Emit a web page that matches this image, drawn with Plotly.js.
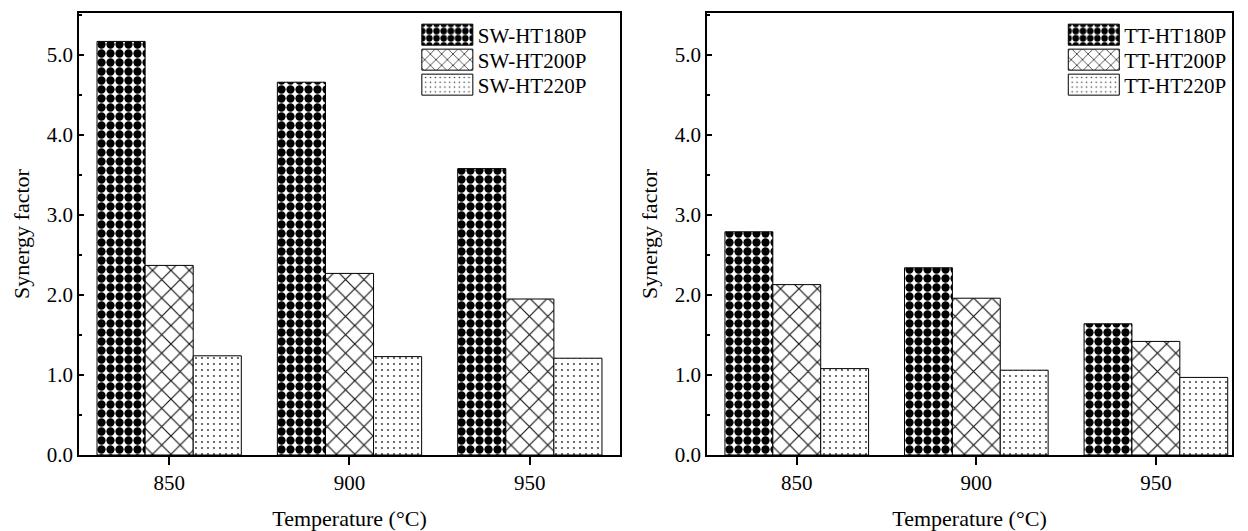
<!DOCTYPE html>
<html><head><meta charset="utf-8">
<script src="https://cdn.plot.ly/plotly-3.0.1.min.js"></script>
<style>html,body{margin:0;padding:0;background:#fff}#chart{width:1248px;height:531px}</style>
</head><body><div id="chart"></div>
<script>
// ---- data ----
const temperatures = [850, 900, 950];
const xTickLabels = ['850', '900', '950'];
const swNames = ['SW-HT180P', 'SW-HT200P', 'SW-HT220P'];
const ttNames = ['TT-HT180P', 'TT-HT200P', 'TT-HT220P'];
const sw180 = [5.17, 4.66, 3.58];
const sw200 = [2.37, 2.27, 1.95];
const sw220 = [1.24, 1.23, 1.21];
const tt180 = [2.79, 2.34, 1.64];
const tt200 = [2.13, 1.96, 1.42];
const tt220 = [1.08, 1.06, 0.97];
const yTickVals = [0, 1, 2, 3, 4, 5];

// ---- styles ----
const FONT = 'Liberation Serif, Times New Roman, serif';
const patterns = [
  {shape: '.', fgcolor: '#000', bgcolor: '#fff', size: 9, solidity: 0.66, fillmode: 'replace'},
  {shape: 'x', fgcolor: '#111', bgcolor: '#fff', size: 13, solidity: 0.17, fillmode: 'replace'},
  {shape: '.', fgcolor: '#333', bgcolor: '#fff', size: 6, solidity: 0.08, fillmode: 'replace'}
];
function mk(name, vals, i, xa, ya, lg) {
  return {
    type: 'bar', name: name, x: temperatures, y: vals,
    xaxis: xa, yaxis: ya, legend: lg,
    marker: {color: '#fff', pattern: patterns[i], line: {color: '#000', width: 1}},
    hoverinfo: 'name+y'
  };
}
const traces = [
  mk(swNames[0], sw180, 0, 'x', 'y', 'legend'),
  mk(swNames[1], sw200, 1, 'x', 'y', 'legend2'),
  mk(swNames[2], sw220, 2, 'x', 'y', 'legend3'),
  mk(ttNames[0], tt180, 0, 'x2', 'y2', 'legend4'),
  mk(ttNames[1], tt200, 1, 'x2', 'y2', 'legend5'),
  mk(ttNames[2], tt220, 2, 'x2', 'y2', 'legend6')
];

function xax(domain, range, anchor) {
  return {
    domain: domain, range: range, anchor: anchor,
    tickvals: temperatures, ticktext: xTickLabels,
    ticks: 'outside', ticklen: 8, tickwidth: 1.5, tickcolor: '#000',
    showline: true, linecolor: '#000', linewidth: 1.5, mirror: true,
    showgrid: false, zeroline: false,
    tickfont: {family: FONT, size: 21, color: '#000'},
    title: {text: 'Temperature (°C)', font: {family: FONT, size: 22, color: '#000'}, standoff: 18}
  };
}
function yax(anchor) {
  return {
    domain: [0.1431, 0.9755], range: [0, 5.525], anchor: anchor,
    tickvals: yTickVals, tickformat: '.1f',
    ticks: 'inside', ticklen: 5, tickwidth: 1.5, tickcolor: '#000',
    minor: {dtick: 0.5, ticks: 'inside', ticklen: 3, tickwidth: 1.5, tickcolor: '#000'},
    showline: true, linecolor: '#000', linewidth: 1.5, mirror: true,
    showgrid: false, zeroline: false,
    tickfont: {family: FONT, size: 21, color: '#000'},
    title: {text: 'Synergy factor', font: {family: FONT, size: 22, color: '#000'}, standoff: 11}
  };
}
function lg(x, rowCenterPx) {
  return {
    bgcolor: 'rgba(0,0,0,0)', borderwidth: 0,
    font: {family: FONT, size: 21, color: '#000'},
    itemwidth: 51, xanchor: 'left', yanchor: 'middle',
    x: x, y: (531 - rowCenterPx) / 531
  };
}
const rows = [35, 60, 85];
const layout = {
  width: 1248, height: 531,
  margin: {l: 0, r: 0, t: 0, b: 0},
  paper_bgcolor: '#fff', plot_bgcolor: '#fff',
  barmode: 'group', bargap: 0.2, bargroupgap: 0,
  showlegend: true,
  font: {family: FONT, color: '#000'},
  xaxis: xax([0.0633, 0.4968], [825, 975], 'y'),
  yaxis: yax('x'),
  xaxis2: xax([0.5665, 0.9872], [825, 971.2], 'y2'),
  yaxis2: yax('x2'),
  legend: lg(0.334, rows[0]),
  legend2: lg(0.334, rows[1]),
  legend3: lg(0.334, rows[2]),
  legend4: lg(0.852, rows[0]),
  legend5: lg(0.852, rows[1]),
  legend6: lg(0.852, rows[2])
};

function bigSwatches() {
  document.querySelectorAll('#chart g.legendpoints path').forEach(function (p) {
    p.setAttribute('d', 'M25.5,10.5H-25.5V-10.5H25.5Z');
  });
}
const gdDiv = document.getElementById('chart');
Plotly.newPlot(gdDiv, traces, layout, {displayModeBar: false, responsive: false}).then(function (gd) {
  bigSwatches();
  gd.on('plotly_afterplot', bigSwatches);
  setTimeout(bigSwatches, 30);
  setTimeout(bigSwatches, 200);
});
</script>
</body></html>
